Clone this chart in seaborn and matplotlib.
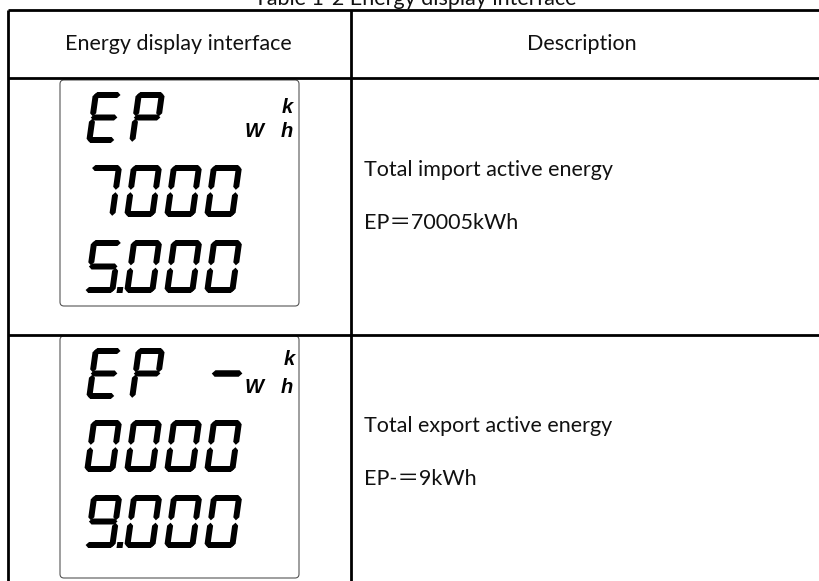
import numpy as np
import seaborn as sns
import matplotlib.pyplot as plt
from matplotlib.patches import Polygon, FancyBboxPatch

title = "Table 1-2 Energy display interface"
headers = ["Energy display interface", "Description"]
lcd_top = ["EP", "EP"]
lcd_minus = [False, True]
lcd_mid = ["7000", "0000"]
lcd_low = ["5.000", "9.000"]
desc_title = ["Total import active energy", "Total export active energy"]
desc_value = ["EP＝70005kWh", "EP-＝9kWh"]

sns.set_theme(style="white")
plt.rcParams['font.family'] = ['Lato', 'Noto Sans CJK SC', 'DejaVu Sans']

SEGS = {'0': 'abcdef', '1': 'bc', '2': 'abged', '3': 'abgcd', '4': 'fgbc',
        '5': 'afgcd', '6': 'afgedc', '7': 'abc', '8': 'abcdefg',
        '9': 'abcdfg', 'E': 'afged', 'P': 'abfge', '-': 'g'}


def hseg(xa, xb, y, t):
    return [(xa, y), (xa + t / 2, y - t / 2), (xb - t / 2, y - t / 2),
            (xb, y), (xb - t / 2, y + t / 2), (xa + t / 2, y + t / 2)]


def vseg(x, ya, yb, t):
    return [(x, ya), (x + t / 2, ya + t / 2), (x + t / 2, yb - t / 2),
            (x, yb), (x - t / 2, yb - t / 2), (x - t / 2, ya + t / 2)]


def draw_seven(ax, text, x0, ytop, w, h, pitch, t=6, slant=0.14, gap=1.2):
    ybot = ytop + h
    ymid = ytop + h / 2
    pos = 0
    for ch in text:
        if ch == '.':
            # decimal point after previous digit
            cx = x0 + (pos - 1) * pitch + w + (pitch - w) / 2
            pts = [(cx - t / 2, ybot - t), (cx + t / 2, ybot - t),
                   (cx + t / 2, ybot), (cx - t / 2, ybot)]
            pts = [(x + slant * (ybot - y), y) for x, y in pts]
            ax.add_patch(Polygon(pts, closed=True, color='black', lw=0))
            continue
        xl = x0 + pos * pitch
        xr = xl + w
        shapes = {
            'a': hseg(xl + gap, xr - gap, ytop + t / 2, t),
            'g': hseg(xl + gap, xr - gap, ymid, t),
            'd': hseg(xl + gap, xr - gap, ybot - t / 2, t),
            'f': vseg(xl + t / 2, ytop + gap, ymid - gap, t),
            'b': vseg(xr - t / 2, ytop + gap, ymid - gap, t),
            'e': vseg(xl + t / 2, ymid + gap, ybot - gap, t),
            'c': vseg(xr - t / 2, ymid + gap, ybot - gap, t),
        }
        for s in SEGS[ch]:
            pts = [(x + slant * (ybot - y), y) for x, y in shapes[s]]
            ax.add_patch(Polygon(pts, closed=True, color='black', lw=0))
        pos += 1


fig = plt.figure(figsize=(8.2, 5.81), dpi=100)
ax = fig.add_axes([0, 0, 1, 1])
ax.set_xlim(0, 820)
ax.set_ylim(581, 0)
ax.axis('off')

# table grid
lw = 2.0
for y in [10, 78, 335]:
    ax.plot([8, 820], [y, y], color='black', lw=lw, solid_capstyle='butt')
for x in [8, 351]:
    ax.plot([x, x], [10, 581], color='black', lw=lw, solid_capstyle='butt')

txt = '#111111'
ax.text(415, 5, title, ha='center', va='baseline', fontsize=15.5, color=txt)
ax.text(178, 44, headers[0], ha='center', va='center', fontsize=15.5, color=txt)
ax.text(582, 44, headers[1], ha='center', va='center', fontsize=15.5, color=txt)

row_top = [80, 336]
row_h = [226, 242]
offs = [[12, 85, 160], [12, 84, 159]]
for i in range(2):
    y0 = row_top[i]
    ax.add_patch(FancyBboxPatch((60, y0), 239, row_h[i],
                                boxstyle="round,pad=0,rounding_size=4",
                                fill=False, ec='#555555', lw=0.8))
    draw_seven(ax, lcd_top[i], 86, y0 + offs[i][0], 29, 51, 43)
    if lcd_minus[i]:
        draw_seven(ax, '-', 207, y0 + 12, 33, 51, 43, t=6.5)
    draw_seven(ax, lcd_mid[i], 84, y0 + offs[i][1], 31, 52, 40)
    draw_seven(ax, lcd_low[i], 84, y0 + offs[i][2], 31, 53, 40)

    ku = dict(family='Liberation Sans', weight='bold', style='italic',
              fontsize=14.5, va='baseline', ha='center', color='black')
    if lcd_minus[i]:
        ax.text(289, y0 + 29, 'k', **ku)
        ax.text(254, y0 + 57, 'W', **ku)
        ax.text(287, y0 + 57, 'h', **ku)
    else:
        ax.text(287, y0 + 33, 'k', **ku)
        ax.text(254, y0 + 57, 'W', **ku)
        ax.text(287, y0 + 57, 'h', **ku)

    ax.text(364, y0 + 90, desc_title[i], ha='left', va='center',
            fontsize=15.5, color=txt)
    ax.text(364, y0 + 143, desc_value[i], ha='left', va='center',
            fontsize=15.5, color=txt)

fig.savefig("out.png", dpi=100)
